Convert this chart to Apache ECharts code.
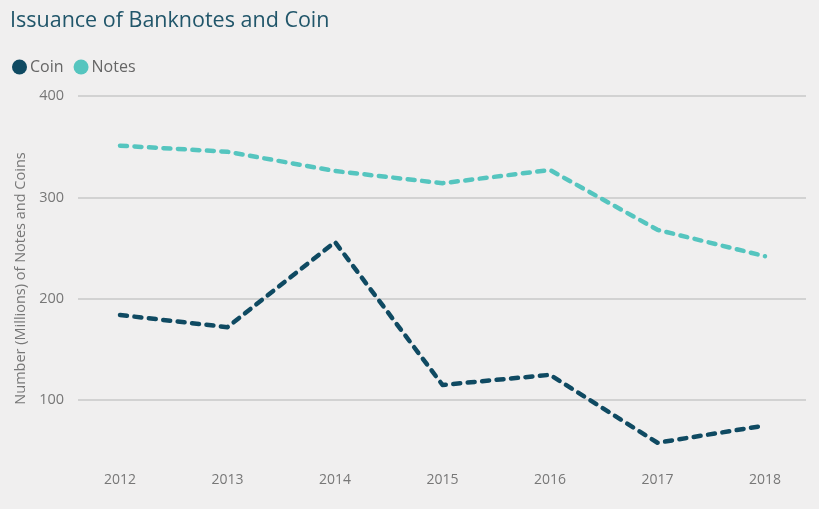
<!DOCTYPE html>
<html>
<head>
<meta charset="utf-8">
<script src="https://cdn.jsdelivr.net/npm/echarts@6/dist/echarts.min.js"></script>
<style>
  html, body { margin: 0; padding: 0; background: #f0efef; }
  #chart { width: 819px; height: 509px; }
</style>
</head>
<body>
<div id="chart"></div>
<script>
// Annual issuance, millions of pieces
const years = ['2012', '2013', '2014', '2015', '2016', '2017', '2018'];
const coin = [184, 172, 256, 115, 125, 58, 75];
const notes = [351, 345, 326, 314, 327, 268, 242];

const COIN_COLOR = '#0f4a62';
const NOTES_COLOR = '#55c5bf';
const FONT = '"Open Sans", "DejaVu Sans", sans-serif';
const Y_MIN = 40, Y_MAX = 400;

const chart = echarts.init(document.getElementById('chart'));

const dashed = (color) => ({
  color: color,
  width: 4.5,
  type: [7, 7.5],
  cap: 'round',
  join: 'round'
});

chart.setOption({
  backgroundColor: '#f0efef',
  animation: false,
  title: {
    text: 'Issuance of Banknotes and Coin',
    left: 10,
    top: 10,
    padding: 0,
    textStyle: { fontFamily: FONT, fontSize: 21.5, fontWeight: 'normal', color: '#21566a' }
  },
  legend: {
    left: 7,
    top: 54,
    icon: 'circle',
    itemWidth: 15,
    itemHeight: 15,
    itemGap: 10,
    textStyle: { fontFamily: FONT, fontSize: 16, color: '#666666', padding: [0, 0, 0, -2] },
    data: ['Coin', 'Notes']
  },
  grid: [
    // plotting area: categories centred on the year ticks
    { left: 120, right: 54, top: 96, bottom: 48 },
    // wider frame carrying the horizontal gridlines and value labels
    { left: 78, right: 13, top: 96, bottom: 48 }
  ],
  xAxis: [
    {
      gridIndex: 0,
      type: 'category',
      data: years,
      boundaryGap: false,
      axisLine: { show: false },
      axisTick: { show: false },
      axisLabel: { fontFamily: FONT, fontSize: 14, color: '#777777', margin: 12 }
    },
    {
      gridIndex: 1,
      type: 'category',
      data: years,
      show: false
    }
  ],
  yAxis: [
    {
      gridIndex: 0,
      type: 'value',
      min: Y_MIN,
      max: Y_MAX,
      show: false,
      splitLine: { show: false }
    },
    {
      gridIndex: 1,
      type: 'value',
      min: Y_MIN,
      max: Y_MAX,
      name: 'Number (Millions) of Notes and Coins',
      nameLocation: 'middle',
      nameGap: 50,
      nameTextStyle: { fontFamily: FONT, fontSize: 14.5, color: '#777777' },
      axisLine: { show: false },
      axisTick: { show: false },
      axisLabel: { fontFamily: FONT, fontSize: 14.5, color: '#777777', margin: 14, showMinLabel: false },
      splitLine: { show: true, showMinLine: false, lineStyle: { color: '#c9c8c8', width: 1.5 } }
    }
  ],
  series: [
    {
      name: 'Coin',
      type: 'line',
      xAxisIndex: 0,
      yAxisIndex: 0,
      data: coin,
      symbol: 'none',
      itemStyle: { color: COIN_COLOR },
      lineStyle: dashed(COIN_COLOR)
    },
    {
      name: 'Notes',
      type: 'line',
      xAxisIndex: 0,
      yAxisIndex: 0,
      data: notes,
      symbol: 'none',
      itemStyle: { color: NOTES_COLOR },
      lineStyle: dashed(NOTES_COLOR)
    }
  ]
});
</script>
</body>
</html>
